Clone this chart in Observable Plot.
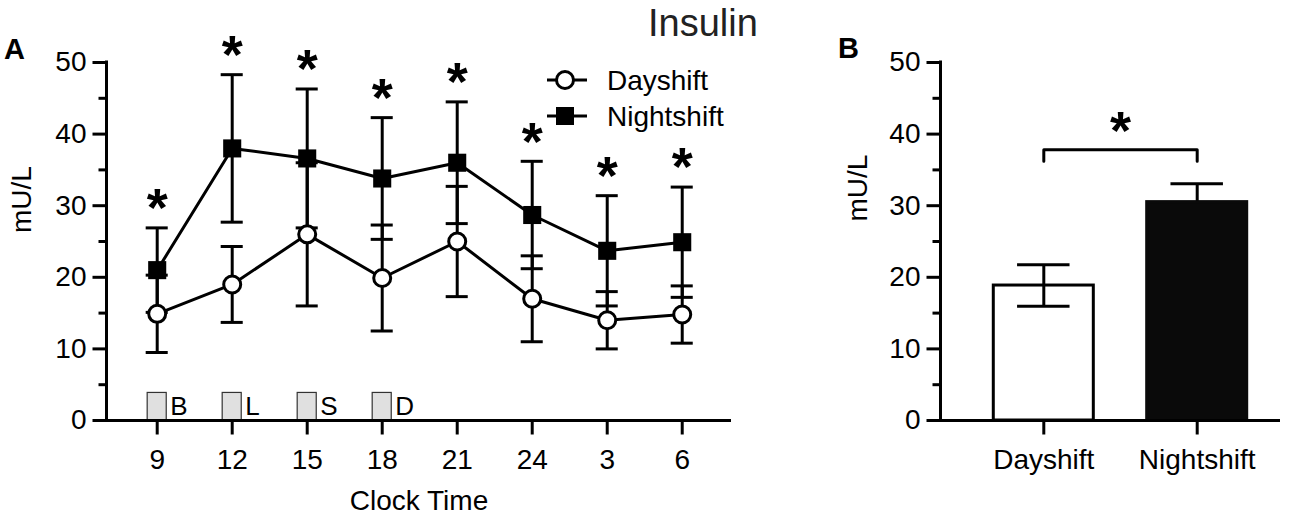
<!DOCTYPE html>
<html>
<head>
<meta charset="utf-8">
<script src="https://cdn.jsdelivr.net/npm/d3@7"></script>
<script src="https://cdn.jsdelivr.net/npm/@observablehq/plot@0.6"></script>
<style>
  html, body { margin: 0; padding: 0; background: white; }
  #wrap { position: relative; width: 1302px; height: 517px; font-family: "Liberation Sans", Arial, sans-serif; color: black; overflow: hidden; }
  #wrap > svg, #wrap > div { position: absolute; }
  .lbl { font-weight: bold; font-size: 29px; line-height: 29px; }
</style>
</head>
<body>
<div id="wrap">
  <div id="title" style="left:648px;top:3.5px;font-size:38px;line-height:38px;color:#222;">Insulin</div>
  <div class="lbl" style="left:4px;top:34.5px;">A</div>
  <div class="lbl" style="left:838px;top:33.5px;">B</div>
</div>
<script>
// ---------- Data ----------
const clockLabels = ["9", "12", "15", "18", "21", "24", "3", "6"];
const dayMean   = [14.9, 19.0, 26.0, 19.9, 25.0, 17.0, 14.0, 14.8];
const dayErr    = [5.4, 5.3, 10.0, 7.4, 7.7, 6.0, 4.0, 4.0];
const nightMean = [21.0, 38.0, 36.6, 33.8, 36.0, 28.7, 23.7, 24.9];
const nightErr  = [5.9, 10.3, 9.7, 8.5, 8.5, 7.5, 7.7, 7.7];
const nightSig  = ["*", "*", "*", "*", "*", "*", "*", "*"];

const mealLabels = ["B", "L", "S", "D"];
const mealTime   = ["9", "12", "15", "18"];
const mealBoxTop = 3.85;

const groups    = ["Dayshift", "Nightshift"];
const groupMean = [18.85, 30.5];
const groupErr  = [2.9, 2.55];
const bracketLow = 36.2, bracketHigh = 37.8;
const groupSig = "*";

const yMajor = [0, 10, 20, 30, 40, 50];
const yMinor = [5, 15, 25, 35, 45];

// ---------- Tables ----------
const mk = (mean, err) => mean.map((m, i) => ({i, mean: m, lo: m - err[i], hi: m + err[i]}));
const day = mk(dayMean, dayErr);
const night = mk(nightMean, nightErr).map((d, k) => ({...d, sig: nightSig[k]}));
const meals = mealLabels.map((l, k) => ({label: l, i: clockLabels.indexOf(mealTime[k])}));
const bars = mk(groupMean, groupErr).map((d, k) => ({...d, name: groups[k]}));
const bracket = [
  {x: 0, y: bracketLow}, {x: 0, y: bracketHigh}, {x: 1, y: bracketHigh}, {x: 1, y: bracketLow}
];

const font = '"Liberation Sans", Arial, sans-serif';
const style = {fontFamily: font, fontSize: "28px", color: "black", background: "transparent", overflow: "visible"};
const SW = 3;

// tick glyphs as custom dot symbols (so the stroke width is under control)
const hTick = len => ({draw(ctx) { ctx.moveTo(-len, 0); ctx.lineTo(0, 0); }});
const vTick = len => ({draw(ctx) { ctx.moveTo(0, 0); ctx.lineTo(0, len); }});

function yAxes(x0) {
  return [
    Plot.axisY({ticks: yMajor, tickSize: 0, tickPadding: 20, fontSize: 28, label: null}),
    Plot.dot(yMajor, {x: () => x0, y: d => d, symbol: hTick(14), stroke: "black", fill: "none", strokeWidth: SW}),
    Plot.dot(yMinor, {x: () => x0, y: d => d, symbol: hTick(8), stroke: "black", fill: "none", strokeWidth: SW})
  ];
}
function xAxis(ticks, fmt) {
  return [
    Plot.axisX({ticks, tickFormat: fmt, tickSize: 0, tickPadding: 29, fontSize: 28, label: null}),
    Plot.dot(ticks, {x: d => d, y: () => 0, symbol: vTick(14), stroke: "black", fill: "none", strokeWidth: SW})
  ];
}

// ---------- Panel A ----------
const xDomA = [-0.676, 7.657];
const capA = 0.147;
const errMarks = (data) => [
  Plot.ruleX(data, {x: "i", y1: "lo", y2: "hi", stroke: "black", strokeWidth: SW}),
  Plot.ruleY(data, {x1: d => d.i - capA, x2: d => d.i + capA, y: "hi", stroke: "black", strokeWidth: SW}),
  Plot.ruleY(data, {x1: d => d.i - capA, x2: d => d.i + capA, y: "lo", stroke: "black", strokeWidth: SW})
];

const plotA = Plot.plot({
  width: 790, height: 517,
  marginLeft: 106, marginRight: 59, marginTop: 62, marginBottom: 97,
  style,
  x: {domain: xDomA},
  y: {domain: [0, 50]},
  marks: [
    Plot.rect(meals, {x1: d => d.i - 0.127, x2: d => d.i + 0.127, y1: 0, y2: mealBoxTop, fill: "#e0e0e0", stroke: "#333", strokeWidth: 1.2}),
    Plot.text(meals, {x: "i", y: mealBoxTop / 2, text: "label", textAnchor: "start", dx: 13, fontSize: 26}),
    ...errMarks(night),
    ...errMarks(day),
    Plot.line(day, {x: "i", y: "mean", stroke: "black", strokeWidth: SW}),
    Plot.line(night, {x: "i", y: "mean", stroke: "black", strokeWidth: SW}),
    Plot.dot(day, {x: "i", y: "mean", r: 8.5, fill: "white", stroke: "black", strokeWidth: SW}),
    Plot.dot(night, {x: "i", y: "mean", r: 10.2, symbol: "square", fill: "black"}),
    Plot.text(night, {x: "i", y: "hi", text: "sig", dy: -19, fontSize: 54, fontWeight: "bold"}),
    ...yAxes(xDomA[0]),
    ...xAxis(d3.range(clockLabels.length), i => clockLabels[i]),
    Plot.ruleX([xDomA[0]], {y1: 0, y2: 50, stroke: "black", strokeWidth: SW, strokeLinecap: "square"}),
    Plot.ruleY([0], {stroke: "black", strokeWidth: SW}),
    Plot.text(["mU/L"], {frameAnchor: "left", dx: -84, dy: -8.5, rotate: -90, fontSize: 28}),
    Plot.text(["Clock Time"], {frameAnchor: "bottom", dy: 89, fontSize: 28})
  ]
});
plotA.style.left = "0px";
plotA.style.top = "0px";

// ---------- Panel B ----------
const xDomB = [-0.6734, 1.543];
const halfBar = 0.326, capB = 0.171;
const plotB = Plot.plot({
  width: 512, height: 517,
  marginLeft: 150, marginRight: 22, marginTop: 62, marginBottom: 97,
  style,
  x: {domain: xDomB},
  y: {domain: [0, 50]},
  marks: [
    Plot.ruleX(bars, {x: "i", y1: "lo", y2: "hi", stroke: "black", strokeWidth: SW}),
    Plot.ruleY(bars, {x1: d => d.i - capB, x2: d => d.i + capB, y: "hi", stroke: "black", strokeWidth: SW}),
    Plot.rectY(bars, {x1: d => d.i - halfBar, x2: d => d.i + halfBar, y1: 0, y2: "mean",
      fill: d => d.i === 0 ? "white" : "#0a0a0a", stroke: d => d.i === 0 ? "black" : "#0a0a0a", strokeWidth: SW}),
    Plot.ruleY(bars.filter(d => d.i === 0), {x1: d => d.i - capB, x2: d => d.i + capB, y: "lo", stroke: "black", strokeWidth: SW}),
    Plot.ruleX(bars.filter(d => d.i === 0), {x: "i", y1: "lo", y2: "mean", stroke: "black", strokeWidth: SW}),
    Plot.line(bracket, {x: "x", y: "y", stroke: "black", strokeWidth: SW}),
    Plot.text([groupSig], {x: 0.5, y: bracketHigh, dy: -18, fontSize: 54, fontWeight: "bold"}),
    ...yAxes(xDomB[0]),
    ...xAxis([0, 1], i => groups[i]),
    Plot.ruleX([xDomB[0]], {y1: 0, y2: 50, stroke: "black", strokeWidth: SW, strokeLinecap: "square"}),
    Plot.ruleY([0], {stroke: "black", strokeWidth: SW}),
    Plot.text(["mU/L"], {frameAnchor: "left", dx: -82, dy: -20, rotate: -90, fontSize: 28})
  ]
});
plotB.style.left = "790px";
plotB.style.top = "0px";

const wrap = document.getElementById("wrap");
wrap.appendChild(plotA);
wrap.appendChild(plotB);

// ---------- Legend ----------
const ns = "http://www.w3.org/2000/svg";
const leg = document.createElementNS(ns, "svg");
leg.setAttribute("width", 200); leg.setAttribute("height", 80);
leg.style.left = "540px"; leg.style.top = "60px";
leg.innerHTML = `
  <g font-family='${font.replace(/"/g, "")}' font-size="28" fill="black">
    <line x1="7" x2="47" y1="20" y2="20" stroke="black" stroke-width="3"/>
    <circle cx="25" cy="20" r="8.5" fill="white" stroke="black" stroke-width="3"/>
    <text x="67" y="30">${groups[0]}</text>
    <line x1="7" x2="47" y1="56" y2="56" stroke="black" stroke-width="3"/>
    <rect x="16" y="47" width="18" height="18" fill="black"/>
    <text x="67" y="66">${groups[1]}</text>
  </g>`;
wrap.appendChild(leg);
</script>
</body>
</html>
